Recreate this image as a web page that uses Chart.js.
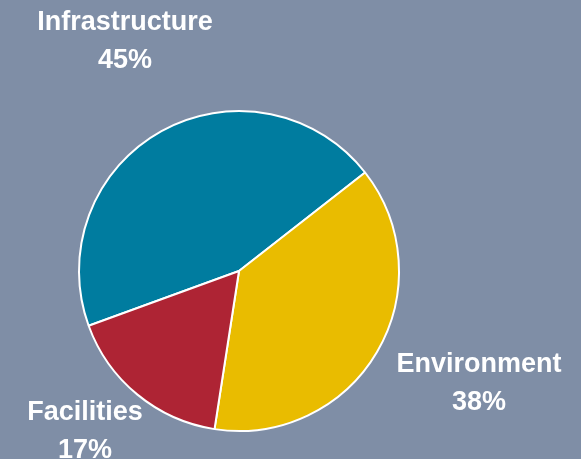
<!DOCTYPE html>
<html>
<head>
<meta charset="utf-8">
<script src="https://cdn.jsdelivr.net/npm/chart.js@4/dist/chart.umd.min.js"></script>
<style>
html,body{margin:0;padding:0;background:#7F8EA6;}
#wrap{width:581px;height:459px;position:relative;}
</style>
</head>
<body>
<div id="wrap"><canvas id="c" width="581" height="459"></canvas></div>
<script>
const categories = ["Infrastructure", "Environment", "Facilities"];
const shares = [45, 38, 17];
const sliceColors = ["#007C9F", "#E9BC00", "#AE2434"];

// label anchor points (centre x, baseline of first line)
const labelAnchors = [
  {x: 125, y: 30},
  {x: 479, y: 372},
  {x: 85, y: 420}
];

const labelPlugin = {
  id: 'sliceLabels',
  afterDraw(chart) {
    const ctx = chart.ctx;
    ctx.save();
    ctx.fillStyle = '#FFFFFF';
    ctx.font = 'bold 27px "Liberation Sans", Arial, sans-serif';
    ctx.textAlign = 'center';
    ctx.textBaseline = 'alphabetic';
    categories.forEach((name, i) => {
      const a = labelAnchors[i];
      ctx.fillText(name, a.x, a.y);
      ctx.fillText(shares[i] + '%', a.x, a.y + 38);
    });
    ctx.restore();
  }
};

new Chart(document.getElementById('c'), {
  type: 'pie',
  data: {
    labels: categories,
    datasets: [{
      data: shares,
      backgroundColor: sliceColors,
      borderColor: '#FFFFFF',
      borderWidth: 2,
      radius: 160
    }]
  },
  options: {
    responsive: false,
    animation: false,
    rotation: -110,
    layout: {padding: {left: 79, right: 182, top: 111, bottom: 28}},
    plugins: {legend: {display: false}, tooltip: {enabled: false}}
  },
  plugins: [labelPlugin]
});
</script>
</body>
</html>
